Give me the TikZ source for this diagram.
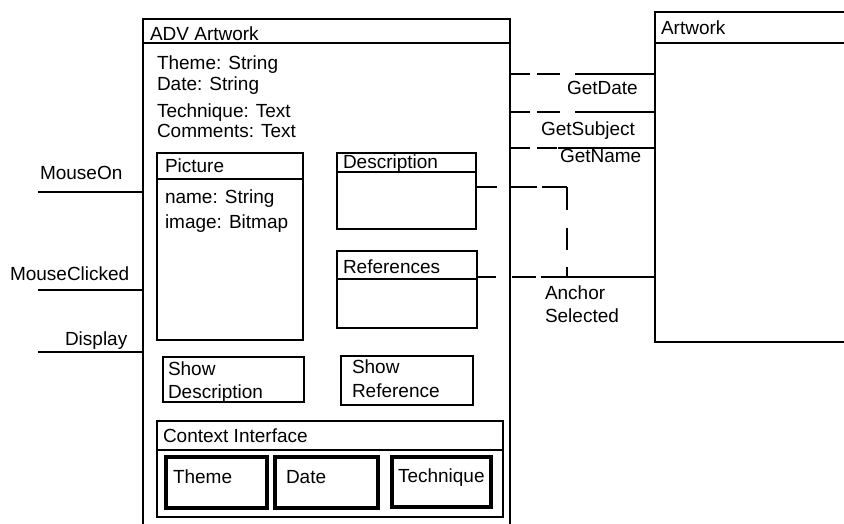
\documentclass[tikz,border=0pt]{standalone}
\usepackage{fontspec}
\setmainfont{Liberation Sans}
\begin{document}
\begin{tikzpicture}[x=1pt,y=-1pt,
  box/.style={draw,line width=2.5pt,anchor=north west,inner sep=0pt,outer sep=0pt},
  heavybox/.style={box,line width=3.4pt},
  rule/.style={line width=2.5pt},
  wire/.style={line width=2.6pt},
  lbl/.style={anchor=base west,inner sep=0pt,outer sep=0pt,font=\fontsize{19}{22}\selectfont}]
\useasboundingbox (0,0) rectangle (844,523);
\clip (0,0) rectangle (844,523);

% ---------- ADV Artwork class ----------
\node[box,minimum width=367pt,minimum height=511pt] (adv) at (143,19) {};
\draw[rule] (adv.west |- 0,43) -- (adv.east |- 0,43);
\node[lbl] (advT) at (150,40) {ADV Artwork};
\node[lbl] (a1) at (157,69) {Theme: String};
\node[lbl] (a2) at (157,90) {Date: String};
\node[lbl] (a3) at (157,117) {Technique: Text};
\node[lbl] (a4) at (157,137) {Comments: Text};

% Picture
\node[box,minimum width=146pt,minimum height=187pt] (pic) at (157,153) {};
\draw[rule] (pic.west |- 0,179) -- (pic.east |- 0,179);
\node[lbl] (picT) at (165,172) {Picture};
\node[lbl] (p1) at (165,203) {name: String};
\node[lbl] (p2) at (165,228) {image: Bitmap};

% Description
\node[box,minimum width=139pt,minimum height=76pt] (desc) at (337,153) {};
\draw[rule] (desc.west |- 0,172) -- (desc.east |- 0,172);
\node[lbl] (descT) at (343,168) {Description};

% References
\node[box,minimum width=140pt,minimum height=77pt] (ref) at (337,251) {};
\draw[rule] (ref.west |- 0,279) -- (ref.east |- 0,279);
\node[lbl] (refT) at (343,273) {References};

% Buttons
\node[box,minimum width=141pt,minimum height=45pt] (sd) at (163,357) {};
\node[lbl] (sd1) at (168,375) {Show};
\node[lbl] (sd2) at (168,398) {Description};
\node[box,minimum width=132pt,minimum height=49pt] (sr) at (341,356) {};
\node[lbl] (sr1) at (352,373) {Show};
\node[lbl] (sr2) at (352,397) {Reference};

% Context Interface
\node[box,minimum width=346pt,minimum height=96pt] (ctx) at (157,421) {};
\draw[rule] (ctx.west |- 0,450) -- (ctx.east |- 0,450);
\node[lbl] (ctxT) at (163,442) {Context Interface};
\node[heavybox,minimum width=101pt,minimum height=51pt] (cTheme) at (166,457) {};
\node[heavybox,minimum width=103pt,minimum height=51pt] (cDate) at (275,457) {};
\node[heavybox,minimum width=99pt,minimum height=50pt] (cTech) at (392,457) {};
\node[lbl] at (173,483) {Theme};
\node[lbl] at (286,483) {Date};
\node[lbl] at (398,482) {Technique};

% ---------- Artwork class ----------
\node[box,minimum width=220pt,minimum height=330pt] (art) at (655,12) {};
\draw[rule] (art.west |- 0,43) -- (art.east |- 0,43);
\node[lbl] (artT) at (661,34) {Artwork};

% ---------- Incoming events ----------
\coordinate (mOn) at (38,192);
\coordinate (mCl) at (38,290);
\coordinate (mDi) at (38,352);
\draw[wire] (mOn) -- (adv.west |- mOn);
\draw[wire] (mCl) -- (adv.west |- mCl);
\draw[wire] (mDi) -- (adv.west |- mDi);
\node[lbl] at (40,179) {MouseOn};
\node[lbl] at (10,280) {MouseClicked};
\node[lbl] at (65,345) {Display};

% ---------- Messages to Artwork ----------
\coordinate (g1) at (0,74);
\coordinate (g2) at (0,112);
\coordinate (g3) at (0,148);
\draw[wire,dash pattern=on 20pt off 7pt on 23pt off 15pt on 300pt]
  (adv.east |- g1) -- (art.west |- g1);
\draw[wire,dash pattern=on 20pt off 7pt on 23pt off 15pt on 300pt]
  (adv.east |- g2) -- (art.west |- g2);
\draw[wire,dash pattern=on 20pt off 7pt on 20pt off 1pt on 300pt]
  (adv.east |- g3) -- (art.west |- g3);
\node[lbl] at (567,94) {GetDate};
\node[lbl] at (541,135) {GetSubject};
\node[lbl] at (560,162) {GetName};

% ---------- Anchor selection ----------
\coordinate (d1) at (0,187);
\coordinate (corner) at (567,187);
\coordinate (r1) at (0,277);
\coordinate (join) at (567,277);
\draw[wire,dash pattern=on 21pt off 14pt on 26pt off 5pt on 30pt off 10pt]
  (desc.east |- d1) -- (corner);
\draw[wire,dash pattern=on 23pt off 18pt on 22pt off 17pt on 20pt off 10pt]
  (corner) -- (join);
\draw[wire,dash pattern=on 19pt off 16pt on 24pt off 5pt on 300pt]
  (ref.east |- r1) -- (art.west |- r1);
\node[lbl] at (545,299) {Anchor};
\node[lbl] at (545,322) {Selected};
\end{tikzpicture}
\end{document}
